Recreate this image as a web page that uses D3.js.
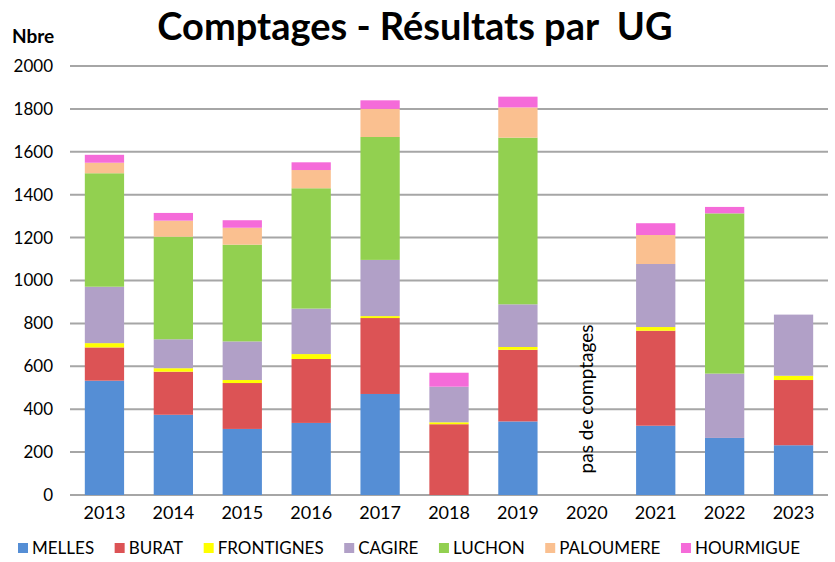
<!DOCTYPE html>
<head>
<meta charset="utf-8">
<script src="https://d3js.org/d3.v7.min.js"></script>
<style>
  body { margin: 0; background: #fff; }
  text { font-family: Lato, "Open Sans", sans-serif; fill: #000; }
  .grid line { stroke: #a6a6a6; stroke-width: 2px; }
</style>
</head>
<body>
<svg></svg>
<script>
var width = 835;
var height = 562;

// data
var years = ["2013","2014","2015","2016","2017","2018","2019","2020","2021","2022","2023"];
var sites = ["MELLES","BURAT","FRONTIGNES","CAGIRE","LUCHON","PALOUMERE","HOURMIGUE"];
var colors = ["#558ed5","#dc5355","#ffff00","#b1a0c7","#92d050","#fac090","#f56bd9"];
var melles     = [533, 374, 308, 336, 471,   0, 343, 0, 323, 266, 232];
var burat      = [155, 201, 214, 298, 354, 330, 334, 0, 443,   0, 304];
var frontignes = [ 20,  16,  14,  23,   9,   9,  13, 0,  17,   0,  20];
var cagire     = [263, 135, 180, 212, 262, 166, 199, 0, 294, 300, 285];
var luchon     = [529, 478, 451, 561, 573,   0, 777, 0,   0, 747,   0];
var paloumere  = [ 49,  75,  79,  85, 131,   0, 141, 0, 135,   0,   0];
var hourmigue  = [ 37,  36,  35,  36,  40,  65,  50, 0,  55,  30,   0];
var yTicks = [0,200,400,600,800,1000,1200,1400,1600,1800,2000];

var series = [melles, burat, frontignes, cagire, luchon, paloumere, hourmigue];

var rows = years.map(function(y, i) {
    var r = {year: y};
    sites.forEach(function(s, k) { r[s] = series[k][i]; });
    return r;
});

var svg = d3.select("svg")
    .attr("width", width)
    .attr("height", height);

var x = d3.scaleBand().domain(years).range([70, 828]).paddingInner(0.43).paddingOuter(0.215);
var y = d3.scaleLinear().domain([0, 2000]).range([495, 66]);

// gridlines
svg.append("g").attr("class", "grid")
    .selectAll("line")
    .data(yTicks)
    .enter().append("line")
    .attr("x1", 70).attr("x2", 828)
    .attr("y1", function(d) { return y(d); })
    .attr("y2", function(d) { return y(d); });

// y axis labels
var yAxis = svg.append("g")
    .attr("transform", "translate(53,0)")
    .call(d3.axisLeft(y).tickValues(yTicks).tickFormat(d3.format("d")).tickSize(0).tickPadding(0));
yAxis.select(".domain").remove();
yAxis.selectAll("text")
    .style("font-size", "17px")
    .style("font-family", "Lato, sans-serif")
    .attr("fill", "#000");

// stacked bars
var stack = d3.stack().keys(sites);
var layers = stack(rows);

svg.append("g").selectAll("g")
    .data(layers)
    .enter().append("g")
    .attr("fill", function(d, i) { return colors[i]; })
    .selectAll("rect")
    .data(function(d) { return d; })
    .enter().append("rect")
    .attr("x", function(d) { return x(d.data.year); })
    .attr("width", x.bandwidth())
    .attr("y", function(d) { return y(d[1]); })
    .attr("height", function(d) { return y(d[0]) - y(d[1]); });

// x axis labels
var xAxis = svg.append("g")
    .attr("transform", "translate(0,495)")
    .call(d3.axisBottom(x).tickSize(0).tickPadding(11));
xAxis.select(".domain").remove();
xAxis.selectAll("text")
    .style("font-size", "18px")
    .style("font-family", "Lato, sans-serif")
    .attr("fill", "#000");

// note for 2020
svg.append("text")
    .attr("transform", "translate(" + (x("2020") + x.bandwidth() / 2 + 6) + "," + 399 + ") rotate(-90)")
    .attr("text-anchor", "middle")
    .style("font-size", "19px")
    .text("pas de comptages");

// title
svg.append("text")
    .attr("x", 415).attr("y", 40)
    .attr("text-anchor", "middle")
    .style("font-size", "38px")
    .style("font-weight", "bold")
    .style("white-space", "pre")
    .text("Comptages - Résultats par  UG");

svg.append("text")
    .attr("x", 12).attr("y", 43)
    .style("font-size", "19px")
    .style("font-weight", "bold")
    .text("Nbre");

// legend
var legend = svg.append("g").attr("transform", "translate(18,554)");
var items = sites.map(function(s, i) {
    var g = legend.append("g");
    g.append("rect").attr("x", 0).attr("y", -11).attr("width", 10).attr("height", 10).attr("fill", colors[i]);
    var t = g.append("text").attr("x", 14).attr("y", 0).style("font-size", "17px").text(s);
    return {g: g, w: 14 + t.node().getComputedTextLength()};
});
var total = d3.sum(items, function(d) { return d.w; });
var gap = (782 - total) / (items.length - 1);
var lx = 0;
items.forEach(function(d) {
    d.g.attr("transform", "translate(" + lx + ",0)");
    lx += d.w + gap;
});
</script>
</body>
